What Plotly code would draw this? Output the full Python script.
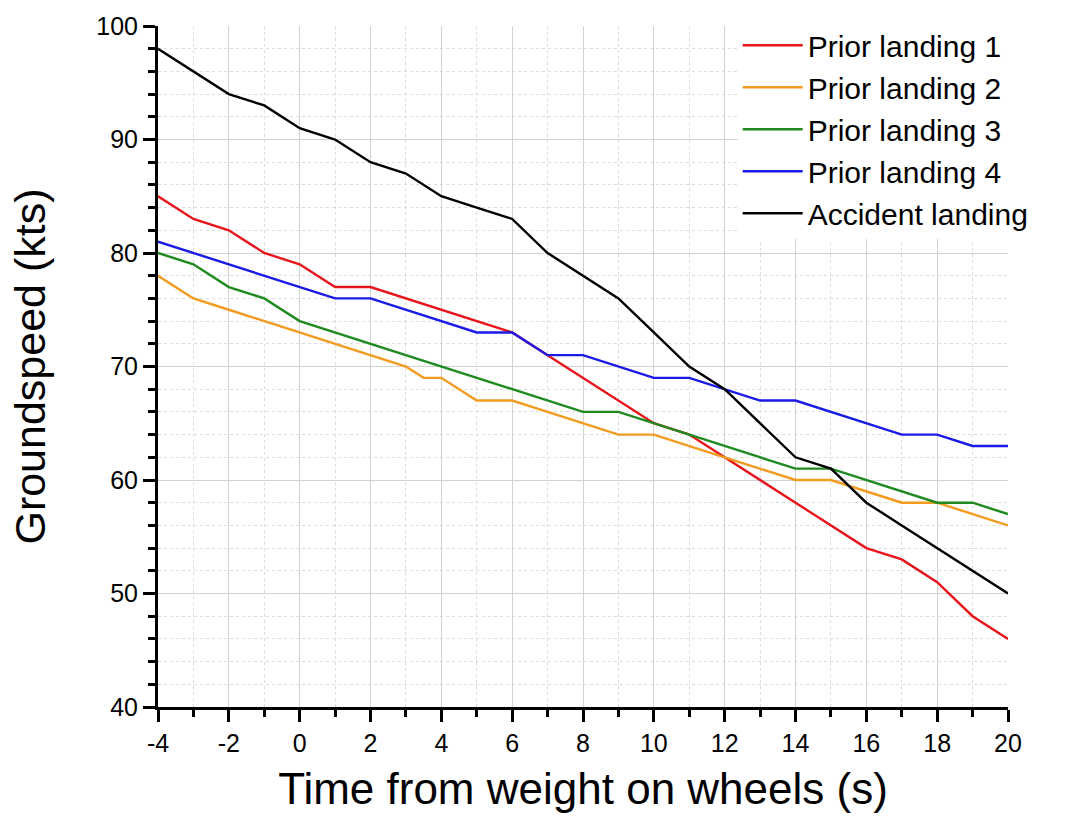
import plotly.graph_objects as go

x_int = list(range(-4, 21))

prior1 = [85, 83, 82, 80, 79, 77, 77, 76, 75, 74, 73, 71, 69, 67, 65, 64, 62, 60, 58, 56, 54, 53, 51, 48, 46]
x_prior2 = [-4, -3, -2, -1, 0, 1, 2, 3, 3.5, 4, 5, 6, 7, 8, 9, 10, 11, 12, 13, 14, 15, 16, 17, 18, 19, 20]
prior2 = [78, 76, 75, 74, 73, 72, 71, 70, 69, 69, 67, 67, 66, 65, 64, 64, 63, 62, 61, 60, 60, 59, 58, 58, 57, 56]
prior3 = [80, 79, 77, 76, 74, 73, 72, 71, 70, 69, 68, 67, 66, 66, 65, 64, 63, 62, 61, 61, 60, 59, 58, 58, 57]
prior4 = [81, 80, 79, 78, 77, 76, 76, 75, 74, 73, 73, 71, 71, 70, 69, 69, 68, 67, 67, 66, 65, 64, 64, 63, 63]
accident = [98, 96, 94, 93, 91, 90, 88, 87, 85, 84, 83, 80, 78, 76, 73, 70, 68, 65, 62, 61, 58, 56, 54, 52, 50]

x_tickvals = [-4, -2, 0, 2, 4, 6, 8, 10, 12, 14, 16, 18, 20]
x_ticktext = ["-4", "-2", "0", "2", "4", "6", "8", "10", "12", "14", "16", "18", "20"]
y_tickvals = [40, 50, 60, 70, 80, 90, 100]
y_ticktext = ["40", "50", "60", "70", "80", "90", "100"]

series = [
    ("Prior landing 1", x_int, prior1, "#e8141b"),
    ("Prior landing 2", x_prior2, prior2, "#f39a1f"),
    ("Prior landing 3", x_int, prior3, "#1f8a1f"),
    ("Prior landing 4", x_int, prior4, "#1a1ae6"),
    ("Accident landing", x_int, accident, "#000000"),
]

fig = go.Figure()
for name, xs, ys, col in series:
    fig.add_trace(go.Scatter(x=xs, y=ys, mode="lines", name=name,
                             line=dict(color=col, width=2.4)))

font = "Liberation Sans, Arial, sans-serif"

fig.update_layout(
    width=1072, height=825,
    margin=dict(l=158, r=64, t=22, b=118),
    paper_bgcolor="white", plot_bgcolor="white",
    showlegend=True,
    legend=dict(x=0.682, y=1.01, xanchor="left", yanchor="top",
                bgcolor="white", borderwidth=0,
                font=dict(family=font, size=30, color="black"),
                tracegroupgap=0, itemwidth=60),
)
fig.update_xaxes(
    range=[-4, 20], tickmode="array", tickvals=x_tickvals, ticktext=x_ticktext,
    showline=True, linecolor="black", linewidth=3,
    ticks="outside", ticklen=12, tickwidth=2.5, tickcolor="black",
    showgrid=True, gridcolor="#d2d2d2", gridwidth=1,
    zeroline=False, mirror=False,
    tickfont=dict(family=font, size=25, color="black"),
    title=dict(text="Time from weight on wheels (s)", font=dict(family=font, size=44, color="black"), standoff=18),
    minor=dict(dtick=1, tick0=-4, ticks="outside", ticklen=7, tickwidth=2.5, tickcolor="black",
               showgrid=True, gridcolor="#dcdcdc", griddash="dot", gridwidth=1),
)
fig.update_yaxes(
    range=[40, 100], tickmode="array", tickvals=y_tickvals, ticktext=y_ticktext,
    showline=True, linecolor="black", linewidth=3,
    ticks="outside", ticklen=12, tickwidth=2.5, tickcolor="black",
    showgrid=True, gridcolor="#d2d2d2", gridwidth=1,
    zeroline=False, mirror=False,
    tickfont=dict(family=font, size=25, color="black"),
    title=dict(text="Groundspeed (kts)", font=dict(family=font, size=43, color="black"), standoff=38),
    minor=dict(dtick=2, tick0=40, ticks="outside", ticklen=7, tickwidth=2.5, tickcolor="black",
               showgrid=True, gridcolor="#dcdcdc", griddash="dot", gridwidth=1),
)

fig.write_html("out.html")
